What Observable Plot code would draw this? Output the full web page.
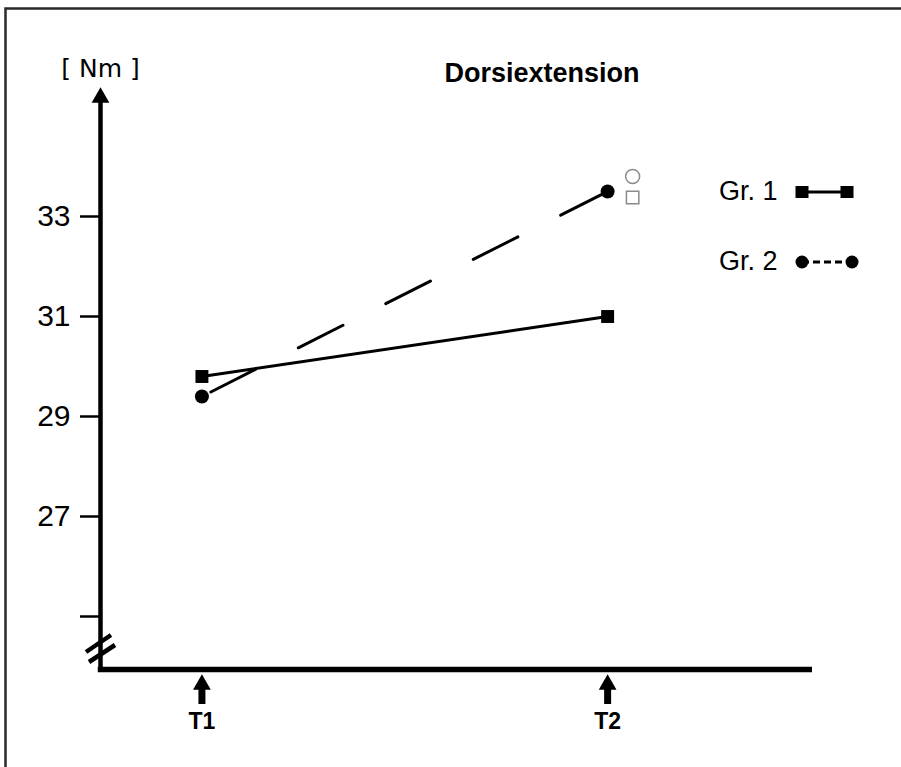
<!DOCTYPE html>
<html><head><meta charset="utf-8">
<script src="https://cdn.jsdelivr.net/npm/d3@7"></script>
<script src="https://cdn.jsdelivr.net/npm/@observablehq/plot@0.6"></script>
<style>
html,body{margin:0;padding:0;background:#fff;overflow:hidden;}
#chart{width:901px;height:767px;overflow:hidden;}
#chart svg{display:block;}
svg text{fill:#000;}
</style></head><body><div id="chart"></div>
<script>
const title = "Dorsiextension";
const unitLabel = "[ Nm ]";
const timepoints = ["T1", "T2"];
const timeIndex = [1, 2];
const groups = ["Gr. 1", "Gr. 2"];
const gr1Values = [29.8, 31.0];
const gr2Values = [29.4, 33.5];
const groupSymbols = ["square", "circle"];
const yTicks = [25, 27, 29, 31, 33];
const yTickLabels = ["", "27", "29", "31", "33"];
const sigSymbols = ["circle", "square"];
const sigValues = [33.8, 33.38];
const xDomain = [0.75, 2.505];
const yDomain = [23.94, 35.58];

const SANS = "'Liberation Sans', Arial, sans-serif";
const W = 901, H = 767;
const M = {marginLeft: 100, marginRight: 89, marginTop: 87, marginBottom: 98};

const seriesValues = [gr1Values, gr2Values];
const rows = groups.flatMap((g, gi) => timeIndex.map((t, ti) => ({group: g, t, value: seriesValues[gi][ti]})));
const gr1Rows = rows.filter(d => d.group === groups[0]);
const gr2Rows = rows.filter(d => d.group === groups[1]);
const sigRows = sigSymbols.map((s, i) => ({symbol: s, t: timeIndex[1], value: sigValues[i]}));
const y0 = yDomain[0];

function decorations(index, scales, values, dimensions) {
  const dim = (dimensions && dimensions.width) ? dimensions : {width: W, height: H, ...M};
  const g = d3.create("svg:g");
  const x0 = dim.marginLeft, yb = dim.height - dim.marginBottom;
  // page border (left + top)
  g.append("path").attr("d", `M5.5,${dim.height}V8.5H${dim.width}`)
    .attr("fill", "none").attr("stroke", "#2a2a2a").attr("stroke-width", 2.5);
  // axis break marks
  [[-14, -17, 11, -34], [-11, -7, 15, -24]].forEach(([a, b, c, d]) => {
    g.append("line").attr("x1", x0 + a).attr("y1", yb + b).attr("x2", x0 + c).attr("y2", yb + d)
      .attr("stroke", "#000").attr("stroke-width", 4.5);
  });
  // legend
  const right = dim.width - dim.marginRight, top = dim.marginTop;
  const items = [
    {label: groups[0], sym: groupSymbols[0], dy: 105, x2: 45, dash: null},
    {label: groups[1], sym: groupSymbols[1], dy: 175, x2: 50, dash: "7,4"}
  ];
  items.forEach(it => {
    const yy = top + it.dy;
    g.append("text").attr("x", right - 93).attr("y", yy + 8).attr("text-anchor", "start")
      .attr("font-family", SANS).attr("font-size", 27).text(it.label);
    const xa = right - 10, xb = xa + it.x2;
    g.append("line").attr("x1", xa).attr("x2", xb).attr("y1", yy).attr("y2", yy)
      .attr("stroke", "#000").attr("stroke-width", 3).attr("stroke-dasharray", it.dash);
    [xa, xb].forEach(cx => {
      if (it.sym === "square") {
        g.append("rect").attr("x", cx - 6.5).attr("y", yy - 6).attr("width", 13).attr("height", 12).attr("fill", "#000");
      } else {
        g.append("circle").attr("cx", cx).attr("cy", yy).attr("r", 6.5).attr("fill", "#000");
      }
    });
  });
  return g.node();
}

const chart = Plot.plot({
  width: W, height: H, ...M,
  style: {background: "#fff", color: "#000"},
  x: {domain: xDomain, axis: null},
  y: {domain: yDomain, axis: null},
  marks: [
    // y axis ticks & labels
    Plot.axisY({ticks: yTicks, tickFormat: d => yTickLabels[yTicks.indexOf(d)], anchor: "left",
      tickSize: 20, tickPadding: 10, strokeWidth: 2.5, fontSize: 30, fontFamily: SANS, label: null}),
    // y axis line with arrow
    Plot.ruleX([xDomain[0]], {y1: yDomain[1], y2: yDomain[0], insetTop: 12, strokeWidth: 4.5}),
    Plot.dot([xDomain[0]], {x: d => d, y: () => yDomain[1], symbol: "triangle", r: 6.6, dy: 10, fill: "#000", stroke: null}),
    // x axis line
    Plot.ruleY([y0], {strokeWidth: 5.5, insetLeft: -2.25}),
    // time-point arrows and labels
    Plot.ruleX(timeIndex, {x: d => d, y1: () => y0, y2: () => y0, insetTop: 18, insetBottom: -35, strokeWidth: 7}),
    Plot.dot(timeIndex, {x: d => d, y: () => y0, symbol: "triangle", r: 6.6, dy: 15, fill: "#000", stroke: null}),
    Plot.text(timepoints, {x: (d, i) => timeIndex[i], y: () => y0, text: d => d, dy: 59, lineAnchor: "bottom",
      fontSize: 23, fontWeight: "bold", fontFamily: SANS}),
    // title and unit
    Plot.text([title], {frameAnchor: "top", dx: 85.5, dy: -6, lineAnchor: "bottom",
      fontSize: 27, fontWeight: "bold", fontFamily: SANS}),
    Plot.text([unitLabel], {frameAnchor: "top-left", dy: -11, lineAnchor: "bottom", textAnchor: "middle",
      fontSize: 25, fontFamily: "'DejaVu Sans', sans-serif"}),
    // data lines
    Plot.line(gr1Rows, {x: "t", y: "value", stroke: "#000", strokeWidth: 3}),
    Plot.line(gr2Rows, {x: "t", y: "value", stroke: "#000", strokeWidth: 3, strokeDasharray: "50,48", strokeDashoffset: 88}),
    Plot.dot(gr1Rows, {x: "t", y: "value", symbol: "square", r: 7.3, fill: "#000", stroke: null}),
    Plot.dot(gr2Rows, {x: "t", y: "value", symbol: "circle", r: 7, fill: "#000", stroke: null}),
    // significance markers
    Plot.dot(sigRows, {x: "t", y: "value", symbol: "symbol", r: 7, dx: 25, fill: "#fff", stroke: "#8a8a8a", strokeWidth: 1.5}),
    decorations
  ]
});
document.getElementById("chart").appendChild(chart);
</script>
</body></html>
